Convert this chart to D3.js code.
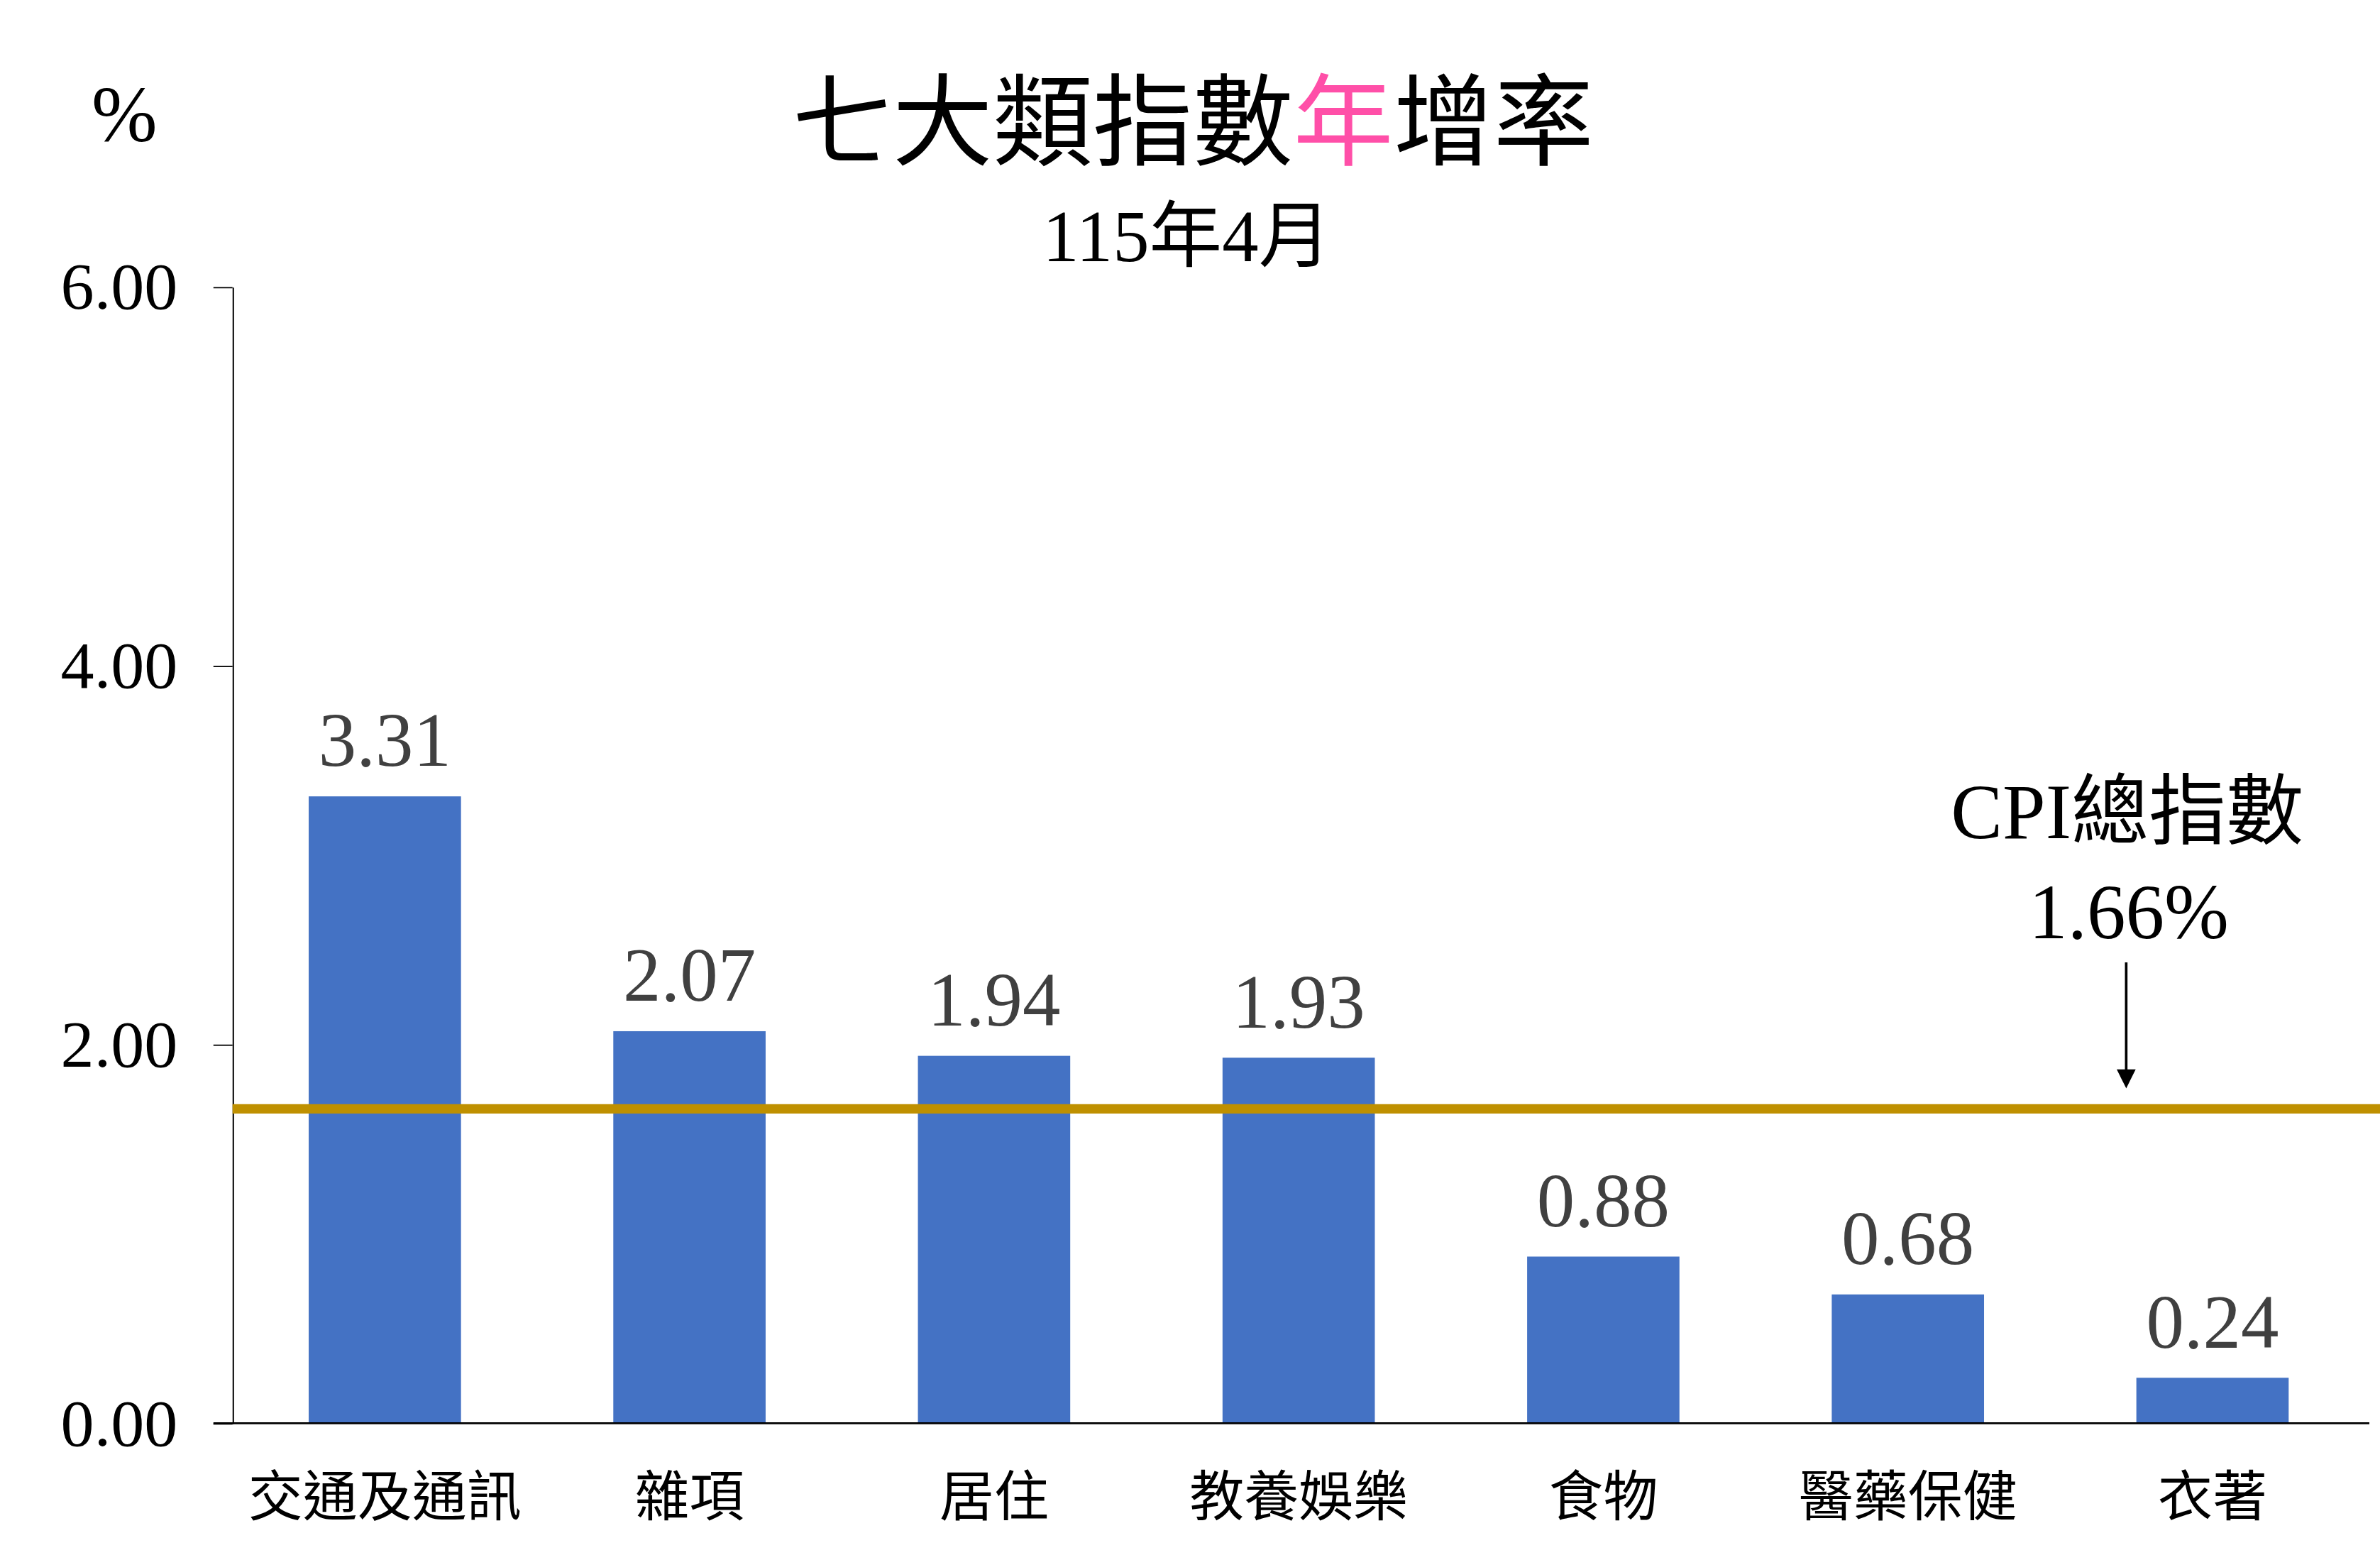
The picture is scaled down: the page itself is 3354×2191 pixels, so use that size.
<!DOCTYPE html>
<html>
<head>
<meta charset="utf-8">
<script src="https://cdn.jsdelivr.net/npm/d3@7"></script>
<style>
  html, body { margin: 0; padding: 0; background: #fff; }
  svg { display: block; }
</style>
</head>
<body>
<svg id="chart"></svg>
<script>
/* ── Data ─────────────────────────────────────────────── */
const CATEGORIES = ["交通及通訊", "雜項", "居住", "教養娛樂", "食物", "醫藥保健", "衣著"];
const VALUES     = [3.31, 2.07, 1.94, 1.93, 0.88, 0.68, 0.24];
const Y_TICKS    = [0, 2, 4, 6];
const CPI_TOTAL  = 1.66;

const TITLE_PARTS = [["七大類指數", false], ["年", true], ["增率", false]];
const SUBTITLE    = "115年4月";
const CPI_LABEL   = "CPI總指數";
const UNIT_LABEL  = "%";

/* ── Layout (drawn in a 1568-wide viewBox, scaled to the window) ── */
const VW = 1568, VH = 1024.3;
const SERIF = "'Liberation Serif', 'Times New Roman', 'Noto Sans CJK TC', serif";
const CJK   = "'Noto Sans CJK TC', 'Noto Sans CJK SC', sans-serif";

const BAR_COLOR  = "#4472C4";
const LINE_COLOR = "#BF9000";
const LABEL_GRAY = "#404040";

const svg = d3.select("#chart")
  .attr("width", 3354)
  .attr("height", 2191)
  .attr("viewBox", `0 0 ${VW} ${VH}`);

const rows = CATEGORIES.map((c, i) => ({ cat: c, v: VALUES[i] }));

/* Scales */
const x = d3.scaleBand()
  .domain(CATEGORIES)
  .range([153.2, 1558])
  .paddingInner(0.5)
  .paddingOuter(0.25);

const y = d3.scaleLinear().domain([0, 6]).range([937.5, 189]);

/* ── Titles ─────────────────────────────────────────── */
const title = svg.append("text")
  .attr("x", 786).attr("y", 104)
  .attr("text-anchor", "middle")
  .attr("font-family", CJK)
  .attr("font-size", 66)
  .attr("fill", "#000");
TITLE_PARTS.forEach(([t, hi]) => {
  title.append("tspan").attr("fill", hi ? "#FF4FA8" : "#000").text(t);
});

svg.append("text")
  .attr("x", 782).attr("y", 172)
  .attr("text-anchor", "middle")
  .attr("font-family", SERIF)
  .attr("font-size", 48)
  .text(SUBTITLE);

svg.append("text")
  .attr("x", 82).attr("y", 93)
  .attr("text-anchor", "middle")
  .attr("font-family", SERIF)
  .attr("font-size", 52)
  .text(UNIT_LABEL);

/* ── Y axis ─────────────────────────────────────────── */
const yAxis = svg.append("g")
  .attr("transform", `translate(${x.range()[0]},0)`)
  .call(d3.axisLeft(y)
    .tickValues(Y_TICKS)
    .tickFormat(d3.format(".2f"))
    .tickSize(12.6)
    .tickSizeOuter(0)
    .tickPadding(23.6));

yAxis.attr("font-family", SERIF).attr("font-size", 44);
yAxis.select(".domain").attr("stroke", "#000").attr("stroke-width", 0.95);
yAxis.selectAll(".tick line").attr("stroke", "#000").attr("stroke-width", 0.85);
yAxis.selectAll(".tick text").attr("fill", "#000");

/* ── Bars ───────────────────────────────────────────── */
svg.append("g")
  .selectAll("rect")
  .data(rows)
  .join("rect")
  .attr("x", d => x(d.cat))
  .attr("y", d => y(d.v))
  .attr("width", x.bandwidth())
  .attr("height", d => y(0) - y(d.v))
  .attr("fill", BAR_COLOR);

/* ── CPI total line ─────────────────────────────────── */
svg.append("line")
  .attr("x1", x.range()[0]).attr("x2", VW)
  .attr("y1", y(CPI_TOTAL)).attr("y2", y(CPI_TOTAL))
  .attr("stroke", LINE_COLOR)
  .attr("stroke-width", 6.2);

/* ── X axis (baseline + category labels) ────────────── */
svg.append("line")
  .attr("x1", x.range()[0] - 12.6).attr("x2", x.range()[1] + 3)
  .attr("y1", y(0)).attr("y2", y(0))
  .attr("stroke", "#000")
  .attr("stroke-width", 1.3);

const xAxis = svg.append("g")
  .attr("transform", `translate(0,${y(0)})`)
  .call(d3.axisBottom(x).tickSize(0));
xAxis.select(".domain").remove();
xAxis.attr("font-family", CJK).attr("font-size", 36);
xAxis.selectAll(".tick text")
  .attr("fill", "#000")
  .attr("y", 61)
  .attr("dy", 0);

/* ── Value labels ───────────────────────────────────── */
svg.append("g")
  .selectAll("text")
  .data(rows)
  .join("text")
  .attr("x", d => x(d.cat) + x.bandwidth() / 2)
  .attr("y", d => y(d.v) - 20)
  .attr("text-anchor", "middle")
  .attr("font-family", SERIF)
  .attr("font-size", 50)
  .attr("fill", LABEL_GRAY)
  .text(d => d3.format(".2f")(d.v));

/* ── CPI annotation with arrow ──────────────────────── */
const ax = 1400.8;
const tip = y(CPI_TOTAL) - 13.5;
const tail = tip - 83;
const head = 12.5;

svg.append("line")
  .attr("x1", ax).attr("x2", ax)
  .attr("y1", tail).attr("y2", tip - head + 1)
  .attr("stroke", "#000")
  .attr("stroke-width", 1.7);
svg.append("path")
  .attr("d", `M${ax - head / 2},${tip - head}L${ax + head / 2},${tip - head}L${ax},${tip}Z`)
  .attr("fill", "#000");

svg.append("text")
  .attr("x", 1402.5).attr("y", tail - 16)
  .attr("text-anchor", "middle")
  .attr("font-family", SERIF)
  .attr("font-size", 51)
  .text(d3.format(".2f")(CPI_TOTAL) + "%");

svg.append("text")
  .attr("x", 1401.5).attr("y", tail - 82)
  .attr("text-anchor", "middle")
  .attr("font-family", SERIF)
  .attr("font-size", 51)
  .text(CPI_LABEL);
</script>
</body>
</html>
